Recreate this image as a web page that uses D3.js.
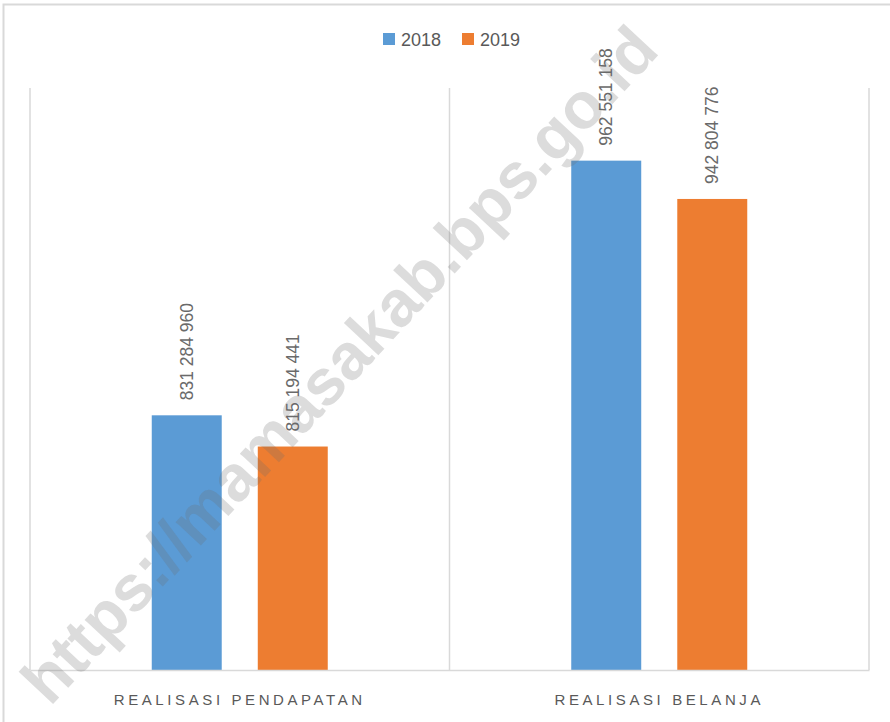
<!DOCTYPE html>
<html>
<head>
<meta charset="utf-8">
<script src="https://cdnjs.cloudflare.com/ajax/libs/d3/7.8.5/d3.min.js"></script>
<style>
  html, body { margin: 0; padding: 0; background: #fff; }
  svg { display: block; font-family: "Liberation Sans", Arial, sans-serif; }
</style>
</head>
<body>
<div id="chart"></div>
<script>
'use strict';

// Data
var categories = ['REALISASI PENDAPATAN', 'REALISASI BELANJA']
var series = ['2018', '2019']
var values2018 = [831284960, 962551158]
var values2019 = [815194441, 942804776]
var colors = ['#5B9BD5', '#ED7D31']
var watermark = 'https://mamasakab.bps.go.id'

var W = 890, H = 722
var margin = {top: 88, right: 21, bottom: 52, left: 30}
var width = W - margin.left - margin.right
var height = H - margin.top - margin.bottom

var svg = d3.select('#chart').append('svg')
    .attr('width', W)
    .attr('height', H)

// outer frame
svg.append('rect')
    .attr('x', 3.5).attr('y', 4.5)
    .attr('width', W + 10).attr('height', H + 10)
    .attr('fill', 'none')
    .attr('stroke', '#d9d9d9')
    .attr('stroke-width', 2)

var g = svg.append('g').attr('transform', 'translate(' + margin.left + ',' + margin.top + ')')

var x0 = d3.scaleBand().domain(categories).range([0, width]).padding(0)
var x1 = d3.scaleBand().domain(series).range([-88, 88]).paddingInner(0.34).paddingOuter(0)
var y = d3.scaleLinear().domain([700000000, 1000000000]).range([height, 0])

// vertical category separators
var seps = [0].concat(categories.map(function(c) { return x0(c) + x0.bandwidth() }))
g.selectAll('.sep')
    .data(seps)
  .enter().append('line')
    .attr('x1', function(d) { return d }).attr('x2', function(d) { return d })
    .attr('y1', 0).attr('y2', height)
    .attr('stroke', '#d9d9d9')
    .attr('stroke-width', 1.5)

var rows = []
categories.forEach(function(c, i) {
  rows.push({cat: c, s: series[0], v: values2018[i], color: colors[0]})
  rows.push({cat: c, s: series[1], v: values2019[i], color: colors[1]})
})

g.selectAll('.bar')
    .data(rows)
  .enter().append('rect')
    .attr('x', function(d) { return x0(d.cat) + x0.bandwidth() / 2 + x1(d.s) })
    .attr('y', function(d) { return y(d.v) })
    .attr('width', x1.bandwidth())
    .attr('height', function(d) { return height - y(d.v) })
    .attr('fill', function(d) { return d.color })

var fmt = function(v) { return d3.format(',')(v).replace(/,/g, ' ') }

g.selectAll('.lbl')
    .data(rows)
  .enter().append('text')
    .attr('transform', function(d) {
      var cx = x0(d.cat) + x0.bandwidth() / 2 + x1(d.s) + x1.bandwidth() / 2
      return 'translate(' + (cx + 6) + ',' + (y(d.v) - 15) + ') rotate(-90)'
    })
    .attr('font-size', '17.5px')
    .attr('fill', '#6a6a6a')
    .text(function(d) { return fmt(d.v) })

// x axis
var xAxis = g.append('g')
    .attr('transform', 'translate(0,' + height + ')')
    .call(d3.axisBottom(x0).tickSize(0).tickPadding(24))
xAxis.select('.domain').attr('stroke', '#d9d9d9').attr('stroke-width', 1.5)
xAxis.selectAll('text')
    .attr('font-size', '15px')
    .attr('fill', '#595959')
    .attr('letter-spacing', '3.6px')
    .attr('font-family', '"Liberation Sans", Arial, sans-serif')

// legend
var legend = svg.append('g').attr('transform', 'translate(383,33)')
var li = legend.selectAll('.li')
    .data(series)
  .enter().append('g')
    .attr('transform', function(d, i) { return 'translate(' + (i * 79) + ',0)' })
li.append('rect')
    .attr('width', 12).attr('height', 12)
    .attr('fill', function(d, i) { return colors[i] })
li.append('text')
    .attr('x', 18).attr('y', 13)
    .attr('font-size', '18px')
    .attr('fill', '#595959')
    .text(function(d) { return d })

// watermark
svg.append('text')
    .attr('transform', 'translate(343,368) rotate(-47)')
    .attr('text-anchor', 'middle')
    .attr('dominant-baseline', 'middle')
    .attr('font-size', '65px')
    .attr('font-weight', 'bold')
    .attr('fill', 'rgb(110,110,110)')
    .attr('fill-opacity', 0.24)
    .text(watermark)
</script>
</body>
</html>
